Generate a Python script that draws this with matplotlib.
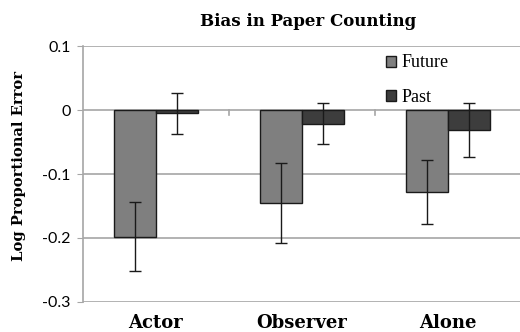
import numpy as np
import matplotlib
matplotlib.use('Agg')
import matplotlib.pyplot as plt
from matplotlib.transforms import blended_transform_factory

# dados
categories = ['Actor', 'Observer', 'Alone']
future = [-0.198, -0.145, -0.128]
future_err = [0.054, 0.063, 0.050]
past = [-0.005, -0.021, -0.031]
past_err = [0.032, 0.032, 0.042]
series_labels = ['Future', 'Past']
yticks = [0.1, 0, -0.1, -0.2, -0.3]
ytick_labels = ['0.1', '0', '-0.1', '-0.2', '-0.3']

serif = 'DejaVu Serif'
grid_col = '#a6a6a6'

fig = plt.figure(figsize=(5.2, 3.32), dpi=100)
ax = fig.add_axes([0.1596, 0.0913, 0.8424, 0.7687])

x = np.arange(len(categories))
w = 0.288
ax.bar(x - w / 2, future, w, color='#7f7f7f', edgecolor='#1a1a1a',
       linewidth=1.0, label=series_labels[0], zorder=3)
ax.bar(x + w / 2, past, w, color='#3d3d3d', edgecolor='#1a1a1a',
       linewidth=1.0, label=series_labels[1], zorder=3)
ax.errorbar(x - w / 2, future, yerr=future_err, fmt='none', ecolor='#1a1a1a',
            elinewidth=1.0, capsize=4, capthick=1.0, zorder=4)
ax.errorbar(x + w / 2, past, yerr=past_err, fmt='none', ecolor='#1a1a1a',
            elinewidth=1.0, capsize=4, capthick=1.0, zorder=4)

ax.set_xlim(-0.5, len(categories) - 0.5)
ax.set_ylim(-0.3, 0.1)

# grade horizontal
for v in yticks:
    ax.axhline(v, color=grid_col, linewidth=1.2, zorder=1)

for s in ['top', 'right', 'bottom']:
    ax.spines[s].set_visible(False)
ax.spines['left'].set_color(grid_col)
ax.spines['left'].set_linewidth(1.2)

ax.set_yticks(yticks)
ax.set_yticklabels(ytick_labels, fontfamily='Lato', fontsize=11.5)
ax.tick_params(axis='y', length=4, color=grid_col, pad=5)

# marcas entre categorias no eixo zero
ax.set_xticks([])
for b in [0.5, 1.5]:
    ax.plot([b, b], [0, -0.008], color=grid_col, linewidth=1.2, zorder=2,
            clip_on=False)

trans = blended_transform_factory(ax.transData, fig.transFigure)
for xi, c in zip(x, categories):
    ax.text(xi, 0.0, c, transform=trans, ha='center', va='bottom',
            fontfamily=serif, fontweight='bold', fontsize=13)

fig.text(0.592, 0.935, 'Bias in Paper Counting', ha='center', va='center',
         fontfamily=serif, fontweight='bold', fontsize=12)
fig.text(0.036, 0.5, 'Log Proportional Error', rotation=90, ha='center',
         va='center', fontfamily=serif, fontweight='bold', fontsize=10.6)

ax.legend(loc='upper left', bbox_to_anchor=(0.742, 0.836),
          bbox_transform=fig.transFigure, frameon=False,
          prop={'family': 'Liberation Serif', 'size': 13}, handlelength=0.55,
          handleheight=0.55, handletextpad=0.3, labelspacing=0.95,
          borderpad=0, borderaxespad=0)

fig.savefig('out.png', dpi=100)
